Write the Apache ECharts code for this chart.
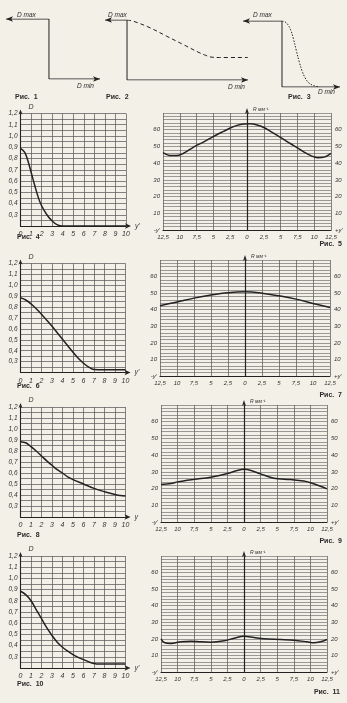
<!DOCTYPE html>
<html><head><meta charset="utf-8">
<script src="https://cdn.jsdelivr.net/npm/echarts@6/dist/echarts.min.js"></script>
<style>html,body{margin:0;padding:0;background:#f3f0e8;}#c{width:347px;height:703px;}</style>
</head><body><div id="c"></div>
<script>
// ---------- data ----------
// Fig 1-3 (schematic, normalised 0..1 units)
const fig1FrameX = [0, 0.457, 0.457, 1];
const fig1FrameY = [1, 1, 0, 0];
const fig2FrameX = [0, 0.154, 0.154, 1];
const fig2FrameY = [1, 1, 0, 0];
const fig2CurveX = [0.154, 0.2, 0.315, 0.431, 0.548, 0.664, 0.705, 0.734, 0.8, 1];
const fig2CurveY = [1, 0.978, 0.87, 0.73, 0.59, 0.45, 0.41, 0.385, 0.375, 0.375];
const fig3FrameX = [0, 0.402, 0.402, 1];
const fig3FrameY = [1, 1, 0, 0];
const fig3CurveX = [0.402, 0.43, 0.46, 0.49, 0.52, 0.55, 0.58, 0.61, 0.64, 0.68, 0.73, 0.79];
const fig3CurveY = [1, 0.99, 0.95, 0.87, 0.73, 0.55, 0.38, 0.24, 0.14, 0.06, 0.02, 0];

// Left plots: D vs y'
const fig4X = [0, 0.4, 0.7, 1.0, 1.35, 1.7, 2.0, 2.5, 3.0, 3.5, 4.0, 5, 6, 7, 8, 9, 10];
const fig4Y = [0.89, 0.855, 0.78, 0.68, 0.56, 0.45, 0.38, 0.3, 0.245, 0.21, 0.2, 0.2, 0.2, 0.2, 0.2, 0.2, 0.2];
const fig6X = [0, 0.5, 1, 1.5, 2, 2.5, 3, 3.5, 4, 4.5, 5, 5.5, 6, 6.5, 7, 8, 9, 10];
const fig6Y = [0.885, 0.865, 0.83, 0.785, 0.735, 0.68, 0.625, 0.565, 0.505, 0.445, 0.385, 0.33, 0.285, 0.25, 0.228, 0.225, 0.225, 0.225];
const fig8X = [0, 0.5, 1, 1.5, 2, 2.5, 3, 3.5, 4, 4.5, 5, 6, 7, 8, 9, 9.5, 10];
const fig8Y = [0.885, 0.875, 0.84, 0.8, 0.755, 0.71, 0.67, 0.63, 0.6, 0.565, 0.54, 0.5, 0.46, 0.43, 0.405, 0.395, 0.39];
const fig10X = [0, 0.5, 1, 1.5, 2, 2.5, 3, 3.5, 4, 4.5, 5, 5.5, 6, 6.5, 7, 7.5, 8, 9, 10];
const fig10Y = [0.885, 0.855, 0.8, 0.72, 0.64, 0.56, 0.49, 0.43, 0.385, 0.35, 0.32, 0.295, 0.275, 0.255, 0.24, 0.235, 0.235, 0.235, 0.235];

// Right plots: R (mm^-1) vs y'
const fig5X = [-12.5,-11.5,-10.5,-9.5,-8.5,-7.5,-6.5,-5.5,-4.5,-3.5,-2.5,-1.5,-0.5,0.5,1.5,2.5,3.5,4.5,5.5,6.5,7.5,8.5,9.5,10.5,11.5,12.5];
const fig5Y = [46.3,44.6,44.5,45.8,48.2,50.6,52.6,54.8,57.0,59.0,61.0,62.6,63.4,63.5,62.8,61.3,59.0,56.6,54.1,51.6,49.2,46.6,44.5,43.3,43.6,45.8];
const fig7X = [-12.5,-10,-7.5,-5,-2.5,0,2.5,5,7.5,10,12.5];
const fig7Y = [42.4,44.6,47.0,48.9,50.3,50.8,50.0,48.4,46.4,43.8,41.3];
const fig9X = [-12.5,-11,-10,-7.5,-5,-2.5,-1,0,0.5,2.5,4.5,7,9,10,11.5,12.5];
const fig9Y = [22.4,23,24,25.5,26.8,29,30.8,31.5,31.4,28.8,26.2,25.4,24.5,23.5,21.4,19.8];
const fig11X = [-12.5,-12,-11,-9.5,-8,-6.5,-5,-3,-1.5,0,1.5,3,5.5,7.5,9.5,10.5,11.5,12.5];
const fig11Y = [20,17.8,17.2,18.3,18.6,18.2,18,18.8,20.4,21.6,20.8,20,19.6,19.2,18.2,17.6,18.2,19.6];

// ---------- styling / layout ----------
const INK = '#222222';
const GRIDC = '#5c5c5c';
const FONT = 'Liberation Sans';
const lbl = (extra) => Object.assign({fontFamily: FONT, fontStyle: 'italic', fontSize: 6.5, color: '#333'}, extra || {});

const grid = [], xAxis = [], yAxis = [], series = [], graphic = [];
const pairs = (xs, ys) => xs.map((x, i) => [x, ys[i]]);

function schematic(box, frameX, frameY, curveX, curveY, curveType) {
  const gi = grid.length;
  grid.push({left: box[0], top: box[1], width: box[2], height: box[3]});
  xAxis.push({gridIndex: gi, type: 'value', min: 0, max: 1, show: false});
  yAxis.push({gridIndex: gi, type: 'value', min: 0, max: 1, show: false});
  const fd = pairs(frameX, frameY).map((p, i, a) => {
    if (i === 0) return {value: p, symbol: 'arrow', symbolSize: [4, 7], symbolRotate: 90};
    if (i === a.length - 1) return {value: p, symbol: 'arrow', symbolSize: [4, 7], symbolRotate: -90};
    return {value: p, symbol: 'none'};
  });
  series.push({type: 'line', xAxisIndex: gi, yAxisIndex: gi, data: fd, symbol: 'none',
    itemStyle: {color: INK}, lineStyle: {color: INK, width: 1}, silent: true, animation: false});
  if (curveX) {
    series.push({type: 'line', xAxisIndex: gi, yAxisIndex: gi, data: pairs(curveX, curveY), smooth: 0.4,
      symbol: 'none', lineStyle: {color: INK, width: 1, type: curveType}, animation: false});
  }
}

function leftPlot(box, xs, ys, xname) {
  const gi = grid.length;
  grid.push({left: box[0], top: box[1], width: box[2], height: box[3]});
  xAxis.push({gridIndex: gi, type: 'value', min: 0, max: 10, interval: 1,
    axisLine: {show: true, onZero: false, lineStyle: {color: INK, width: 1.1}, symbol: ['none', 'arrow'], symbolSize: [4, 6], symbolOffset: [0, 5]},
    axisTick: {show: false},
    axisLabel: lbl({margin: 5, fontSize: 7}),
    splitLine: {show: true, lineStyle: {color: GRIDC, width: 0.75}},
    name: xname, nameLocation: 'end', nameGap: 9, nameTextStyle: lbl({fontSize: 7, verticalAlign: 'middle'})});
  yAxis.push({gridIndex: gi, type: 'value', min: 0.2, max: 1.2, interval: 0.05,
    axisLine: {show: true, onZero: false, lineStyle: {color: INK, width: 1.1}, symbol: ['none', 'arrow'], symbolSize: [3, 5], symbolOffset: [0, 4]},
    axisTick: {show: false},
    axisLabel: lbl({margin: 3, formatter: v => {const k = Math.round(v * 100); return (k % 10 === 0 && k >= 30) ? (k / 100).toFixed(1).replace('.', ',') : '';}}),
    splitLine: {show: true, lineStyle: {color: GRIDC, width: 0.75}},
    name: 'D', nameLocation: 'end', nameGap: 3, nameTextStyle: lbl({fontSize: 7, align: 'left', padding: [0, 0, 0, 8]})});
  series.push({type: 'line', xAxisIndex: gi, yAxisIndex: gi, data: pairs(xs, ys), smooth: 0.35,
    symbol: 'none', lineStyle: {color: INK, width: 1.5}, animation: false});
}

function rightPlot(box, xs, ys) {
  const gi = grid.length;
  grid.push({left: box[0], top: box[1], width: box[2], height: box[3]});
  const xi = xAxis.length;
  xAxis.push({gridIndex: gi, type: 'value', min: -12.5, max: 12.5, interval: 2.5,
    axisLine: {show: true, onZero: false, lineStyle: {color: INK, width: 1.2}},
    axisTick: {show: false},
    axisLabel: lbl({margin: 4, fontSize: 6, formatter: v => String(Math.abs(v)).replace('.', ',')}),
    splitLine: {show: true, lineStyle: {color: GRIDC, width: 0.75}}});
  const yi = yAxis.length;
  yAxis.push({gridIndex: gi, type: 'value', position: 'left', min: 0, max: 70, interval: 2,
    axisLine: {show: false, onZero: false}, axisTick: {show: false},
    axisLabel: lbl({margin: 3, fontSize: 6, formatter: v => v === 0 ? "-y'" : (v % 10 === 0 && v <= 60 ? String(v) : '')}),
    splitLine: {show: true, lineStyle: {color: GRIDC, width: 0.6}}});
  yAxis.push({gridIndex: gi, type: 'value', position: 'right', min: 0, max: 70, interval: 2,
    axisLine: {show: false, onZero: false}, axisTick: {show: false},
    axisLabel: lbl({margin: 4, fontSize: 6, formatter: v => v === 0 ? "+y'" : (v % 10 === 0 && v <= 60 ? String(v) : '')}),
    splitLine: {show: false}});
  yAxis.push({gridIndex: gi, type: 'value', position: 'left', min: 0, max: 70,
    axisLine: {show: true, onZero: true, onZeroAxisIndex: xi, lineStyle: {color: INK, width: 1.2}, symbol: ['none', 'arrow'], symbolSize: [3, 6], symbolOffset: [0, 5]},
    axisTick: {show: false}, axisLabel: {show: false}, splitLine: {show: false},
    name: 'R мм⁻¹', nameLocation: 'end', nameGap: 1, nameTextStyle: lbl({fontSize: 5, align: 'left', padding: [0, 0, 0, 6]})});
  series.push({type: 'line', xAxisIndex: xi, yAxisIndex: yi, data: pairs(xs, ys), smooth: 0.35,
    symbol: 'none', lineStyle: {color: INK, width: 1.5}, animation: false});
}

// top row schematics
schematic([6, 19, 94, 60], fig1FrameX, fig1FrameY);
schematic([105, 20, 143, 60], fig2FrameX, fig2FrameY, fig2CurveX, fig2CurveY, [4, 3]);
schematic([243, 21, 97, 66], fig3FrameX, fig3FrameY, fig3CurveX, fig3CurveY, [1.5, 1.5]);

// left column
leftPlot([20.5, 113.5, 105.5, 112.5], fig4X, fig4Y, "y'");
leftPlot([20.5, 263.5, 105, 109], fig6X, fig6Y, "y'");
leftPlot([20.5, 407, 105, 110], fig8X, fig8Y, "y");
leftPlot([20.5, 556, 105, 112], fig10X, fig10Y, "y'");

// right column
rightPlot([163, 113, 168, 117], fig5X, fig5Y);
rightPlot([160, 260, 170, 116], fig7X, fig7Y);
rightPlot([161, 405, 166, 117], fig9X, fig9Y);
rightPlot([161, 556, 166, 116], fig11X, fig11Y);

// texts
function txt(x, y, s, style) {
  graphic.push({type: 'text', x: x, y: y, silent: true,
    style: Object.assign({text: s, fill: '#2a2a2a', font: 'italic 6.5px "Liberation Sans"', verticalAlign: 'middle'}, style || {})});
}
const capFont = 'bold 7px "Liberation Sans"';
txt(17, 15, 'D max'); txt(77, 86, 'D min');
txt(108, 15, 'D max'); txt(228, 87, 'D min');
txt(253, 15, 'D max'); txt(318, 92, 'D min');
txt(15, 97, 'Рис.  1', {font: capFont});
txt(106, 97, 'Рис.  2', {font: capFont});
txt(288, 97, 'Рис.  3', {font: capFont});
txt(17, 237, 'Рис.  4', {font: capFont});
txt(342, 244, 'Рис.  5', {font: capFont, align: 'right'});
txt(17, 386, 'Рис.  6', {font: capFont});
txt(342, 395, 'Рис.  7', {font: capFont, align: 'right'});
txt(17, 535, 'Рис.  8', {font: capFont});
txt(342, 541, 'Рис.  9', {font: capFont, align: 'right'});
txt(17, 684, 'Рис.  10', {font: capFont});
txt(340, 692, 'Рис.  11', {font: capFont, align: 'right'});

const chart = echarts.init(document.getElementById('c'), null, {renderer: 'canvas'});
chart.setOption({backgroundColor: '#f3f0e8', animation: false, grid, xAxis, yAxis, series, graphic});
</script></body></html>
